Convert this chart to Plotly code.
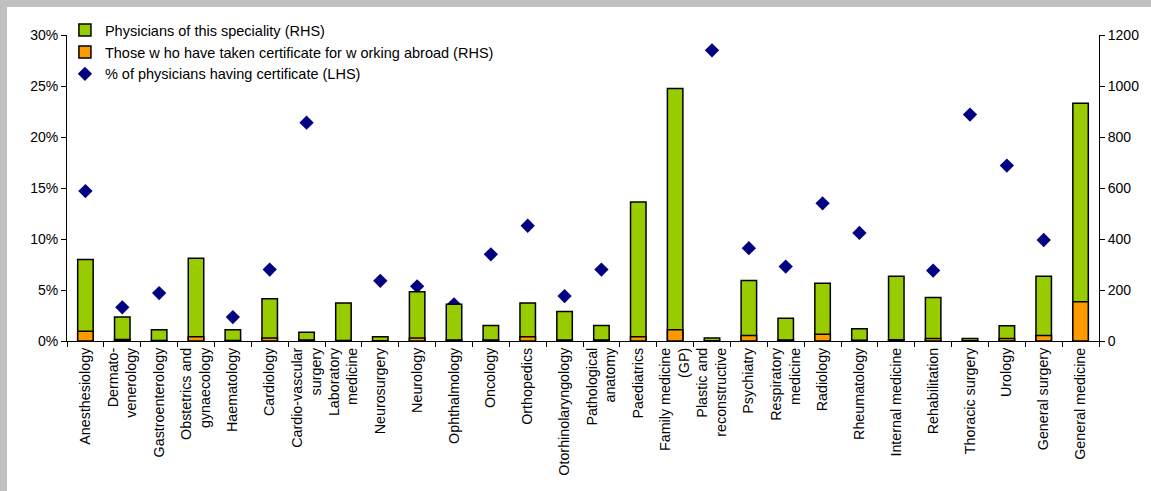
import plotly.graph_objects as go

specialities = [
    "Anesthesiology", "Dermato-<br>venerology", "Gastroenterology",
    "Obstetrics and<br>gynaecology", "Haematology", "Cardiology",
    "Cardio-vascular<br>surgery", "Laboratory<br>medicine", "Neurosurgery",
    "Neurology", "Ophthalmology", "Oncology", "Orthopedics",
    "Otorhinolaryngology", "Pathological<br>anatomy", "Paediatrics",
    "Family medicine<br>(GP)", "Plastic and<br>reconstructive", "Psychiatry",
    "Respiratory<br>medicine", "Radiology", "Rheumatology",
    "Internal medicine", "Rehabilitation", "Thoracic surgery", "Urology",
    "General surgery", "General medicine",
]

# Number of physicians in each speciality (right-hand axis)
physicians = [320, 94, 44, 325, 44, 166, 34, 149, 17, 193, 144, 61, 149, 116,
              61, 545, 990, 12, 237, 89, 226, 48, 254, 171, 10, 60, 254, 932]

# Physicians who have taken a certificate for working abroad (right-hand axis)
certified = [38, 6, 2, 17, 2, 12, 4, 2, 1, 12, 4, 4, 17, 4,
             4, 17, 44, 1, 22, 4, 26, 3, 5, 10, 1, 10, 22, 154]

# Share of physicians having a certificate, in % (left-hand axis)
share_pct = [14.7, 3.3, 4.7, 5.5, 2.35, 7.0, 21.4, 1.37, 5.9, 5.36, 3.6, 8.5,
             11.3, 4.4, 7.0, 3.46, 4.97, 28.5, 9.1, 7.3, 13.5, 10.6, 3.3, 6.9,
             22.2, 17.2, 9.9, 19.6]

left_ticks = [0, 5, 10, 15, 20, 25, 30]
right_ticks = [0, 200, 400, 600, 800, 1000, 1200]

FONT = "Liberation Sans, Arial, sans-serif"

fig = go.Figure()

fig.add_trace(go.Bar(
    x=specialities, y=physicians, yaxis="y2",
    name="Physicians of this speciality (RHS)",
    marker=dict(color="#99CC00", line=dict(color="black", width=1.5)),
    width=0.42,
))
fig.add_trace(go.Bar(
    x=specialities, y=certified, yaxis="y2",
    name="Those w ho have taken certificate for w orking abroad (RHS)",
    marker=dict(color="#FF9900", line=dict(color="black", width=1.5)),
    width=0.42,
))
fig.add_trace(go.Scatter(
    x=specialities, y=share_pct, yaxis="y", mode="markers",
    name="% of physicians having certificate (LHS)",
    marker=dict(symbol="diamond", size=11, color="#000080"),
))

# Grey frame along the top and left edges of the page
fig.add_shape(type="rect", xref="paper", yref="paper",
              x0=-0.07, x1=-0.0581, y0=-0.5, y1=1.2,
              fillcolor="#C0C0C0", line=dict(width=0), layer="below")
fig.add_shape(type="rect", xref="paper", yref="paper",
              x0=-0.07, x1=1.06, y0=1.0915, y1=1.2,
              fillcolor="#C0C0C0", line=dict(width=0), layer="below")

fig.update_layout(
    width=1151, height=491,
    margin=dict(l=67, r=52, t=35, b=150),
    paper_bgcolor="white", plot_bgcolor="white",
    barmode="overlay",
    font=dict(family=FONT, size=14, color="black"),
    showlegend=True,
    legend=dict(x=-0.002, y=1.068, xanchor="left", yanchor="top",
                bgcolor="rgba(0,0,0,0)", font=dict(size=14.5),
                tracegroupgap=0, itemwidth=30),
    xaxis=dict(
        type="category", range=[-0.5, len(specialities) - 0.5],
        tickangle=-90, tickson="boundaries",
        ticks="outside", ticklen=5, tickcolor="black",
        showline=True, linecolor="black", linewidth=1,
        showgrid=False, tickfont=dict(size=14.3),
    ),
    yaxis=dict(
        range=[0, 30], tickvals=left_ticks,
        ticktext=[f"{v}%" for v in left_ticks],
        ticks="outside", ticklen=5, tickcolor="black",
        showline=True, linecolor="black", linewidth=1,
        showgrid=False, zeroline=False, tickfont=dict(size=14),
    ),
    yaxis2=dict(
        range=[0, 1200], tickvals=right_ticks, overlaying="y", side="right",
        ticks="outside", ticklen=5, tickcolor="black",
        showline=True, linecolor="black", linewidth=1,
        showgrid=False, zeroline=False, tickfont=dict(size=14),
    ),
)

fig.write_html("out.html")
